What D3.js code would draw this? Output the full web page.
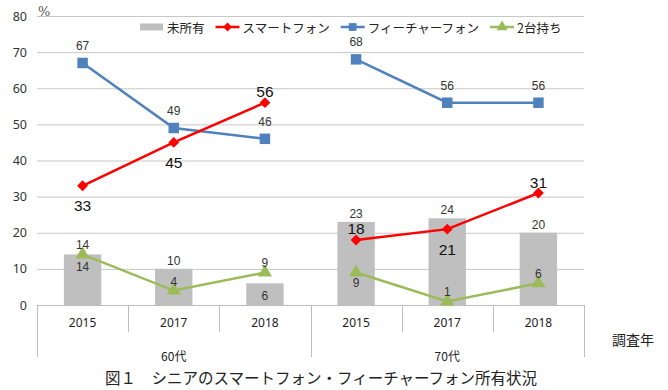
<!DOCTYPE html>
<html><head><meta charset="utf-8">
<script src="https://cdn.jsdelivr.net/npm/d3@7"></script>
<style>
html,body{margin:0;padding:0;background:#fff;}
svg{display:block;font-family:"Noto Sans CJK JP","Noto Sans",sans-serif;}
</style></head>
<body><svg id="chart" width="668" height="390"></svg>
<script>
// ---- data ----
const years = ["2015","2017","2018","2015","2017","2018"];
const groups = ["60代","70代"];
const groupOf = [0,0,0,1,1,1];
const seriesNames = ["未所有","スマートフォン","フィーチャーフォン","2台持ち"];
const noOwn   = [14,10,6,23,24,20];
const smart   = [33,45,56,18,21,31];
const feature = [67,49,46,68,56,56];
const both    = [14,4,9,9,1,6];
const yTicks  = [0,10,20,30,40,50,60,70,80];
// label placement (above / below / inside)
const noOwnPos   = ["inside","above","inside","above","above","above"];
const smartPos   = ["below","below","above","above","below","above"];
const featurePos = ["above","above","above","above","above","above"];
const bothPos    = ["above","above","above","below","above","above"];

(function(){
const svg = d3.select("#chart");
const pL = 37, pR = 584, pT = 16, pB = 305;
const x = d3.scaleBand().domain(d3.range(years.length)).range([pL,pR]);
const y = d3.scaleLinear().domain([0,80]).range([pB,pT]);
const cx = i => x(i) + x.bandwidth()/2;
const numFont = "'Noto Sans','Noto Sans CJK JP',sans-serif";
const lblFont = "'Liberation Sans',Arial,sans-serif";

// gridlines
svg.append("g").attr("transform",`translate(${pL},0)`)
  .call(d3.axisLeft(y).tickValues(yTicks.filter(v=>v>0)).tickSize(-(pR-pL)).tickFormat(""))
  .call(g=>g.select(".domain").remove())
  .call(g=>g.selectAll("line").attr("stroke","#c8c8c8").attr("stroke-width",1));

// y tick labels
svg.append("g").attr("transform",`translate(27,0)`)
  .call(d3.axisLeft(y).tickValues(yTicks).tickSize(0).tickPadding(0))
  .call(g=>g.select(".domain").remove())
  .call(g=>g.selectAll("text").attr("font-size",12.5).attr("fill","#333").attr("font-family",numFont));

svg.append("text").attr("x",38).attr("y",16).attr("font-size",13).attr("fill","#555")
  .attr("font-family","'DejaVu Serif',serif").text("%");

// bars
const bw = x.bandwidth()*0.41;
svg.append("g").selectAll("rect").data(noOwn).join("rect")
  .attr("x",(d,i)=>cx(i)-bw/2).attr("width",bw)
  .attr("y",d=>y(d)).attr("height",d=>y(0)-y(d)).attr("fill","#bfbfbf");

// bottom axis line + dividers
svg.append("line").attr("x1",pL).attr("x2",pR).attr("y1",pB+0.5).attr("y2",pB+0.5)
  .attr("stroke","#bdbdbd");
const bounds = d3.range(years.length+1).map(i=> i<years.length ? x(i) : pR);
bounds.forEach((b,i)=>{
  const outer = (i===0 || i===years.length || groupOf[i]!==groupOf[i-1]);
  svg.append("line").attr("x1",Math.round(b)+0.5).attr("x2",Math.round(b)+0.5)
    .attr("y1",pB).attr("y2",outer?357:332).attr("stroke","#bdbdbd");
});
svg.append("g").selectAll("text").data(years).join("text")
  .attr("x",(d,i)=>cx(i)).attr("y",327).attr("text-anchor","middle")
  .attr("font-size",12).attr("fill","#222").attr("font-family",numFont).text(d=>d);
svg.append("g").selectAll("text").data(groups).join("text")
  .attr("x",(d,gi)=>{const idx=d3.range(years.length).filter(i=>groupOf[i]===gi);
     return (x(idx[0]) + x(idx[idx.length-1])+x.bandwidth())/2;})
  .attr("y",361).attr("text-anchor","middle").attr("font-size",12).attr("fill","#222").text(d=>d);

svg.append("text").attr("x",612).attr("y",345).attr("font-size",14).attr("fill","#222").text("調査年");
svg.append("text").attr("x",321).attr("y",384).attr("text-anchor","middle")
  .attr("font-size",15.5).attr("fill","#222").text("図１　シニアのスマートフォン・フィーチャーフォン所有状況");

// lines per group
function drawLine(vals,color){
  groups.forEach((g,gi)=>{
    const idx=d3.range(vals.length).filter(i=>groupOf[i]===gi);
    svg.append("path").datum(idx)
      .attr("d",d3.line().x(i=>cx(i)).y(i=>y(vals[i])))
      .attr("fill","none").attr("stroke",color).attr("stroke-width",2.5);
  });
}
drawLine(feature,"#4f81bd");
drawLine(smart,"#ff0000");
drawLine(both,"#9bbb59");

const sym = {
  square: d3.symbol().type(d3.symbolSquare).size(110),
  diamond: d3.symbol().type(d3.symbolDiamond2).size(75),
  triangle: d3.symbol().type(d3.symbolTriangle).size(85)
};
function markers(vals,color,s){
  svg.append("g").selectAll("path").data(vals).join("path")
    .attr("transform",(d,i)=>`translate(${cx(i)},${y(d)})`)
    .attr("d",s).attr("fill",color);
}
markers(feature,"#4f81bd",sym.square);
markers(smart,"#ff0000",sym.diamond);
markers(both,"#9bbb59",sym.triangle);

// labels
function labels(vals,pos,size,offA,offB,color){
  svg.append("g").selectAll("text").data(vals).join("text")
    .attr("x",(d,i)=>cx(i))
    .attr("y",(d,i)=>y(d)+(pos[i]==="above"?offA:offB))
    .attr("text-anchor","middle").attr("dominant-baseline","central")
    .attr("font-size",size).attr("fill",color).attr("font-family",lblFont).text(d=>d);
}
labels(noOwn,noOwnPos,12,-8,13,"#333");
labels(feature,featurePos,12,-17,17,"#333");
labels(smart,smartPos,15.5,-11,20,"#111");
labels(both,bothPos,12,-9,11,"#333");

// legend
const leg = svg.append("g").attr("transform","translate(140,27)");
let lx = 0;
const legItems = [
  {name:seriesNames[0],color:"#bfbfbf",type:"bar"},
  {name:seriesNames[1],color:"#ff0000",type:"diamond"},
  {name:seriesNames[2],color:"#4f81bd",type:"square"},
  {name:seriesNames[3],color:"#9bbb59",type:"triangle"}
];
legItems.forEach(it=>{
  const g = leg.append("g").attr("transform",`translate(${lx},0)`);
  if(it.type==="bar"){
    g.append("rect").attr("x",0).attr("y",-3.5).attr("width",23).attr("height",7).attr("fill",it.color);
  } else {
    g.append("line").attr("x1",0).attr("x2",24).attr("stroke",it.color).attr("stroke-width",2.5);
    const s = it.type==="diamond"? d3.symbol().type(d3.symbolDiamond2).size(50)
            : it.type==="square"? d3.symbol().type(d3.symbolSquare).size(60)
            : d3.symbol().type(d3.symbolTriangle).size(55);
    g.append("path").attr("transform","translate(12,0)").attr("d",s).attr("fill",it.color);
  }
  const t = g.append("text").attr("x",27).attr("dominant-baseline","central")
    .attr("font-size",12.5).attr("fill","#222").text(it.name);
  lx += 27 + t.node().getComputedTextLength() + 11;
});
})();
</script></body></html>
